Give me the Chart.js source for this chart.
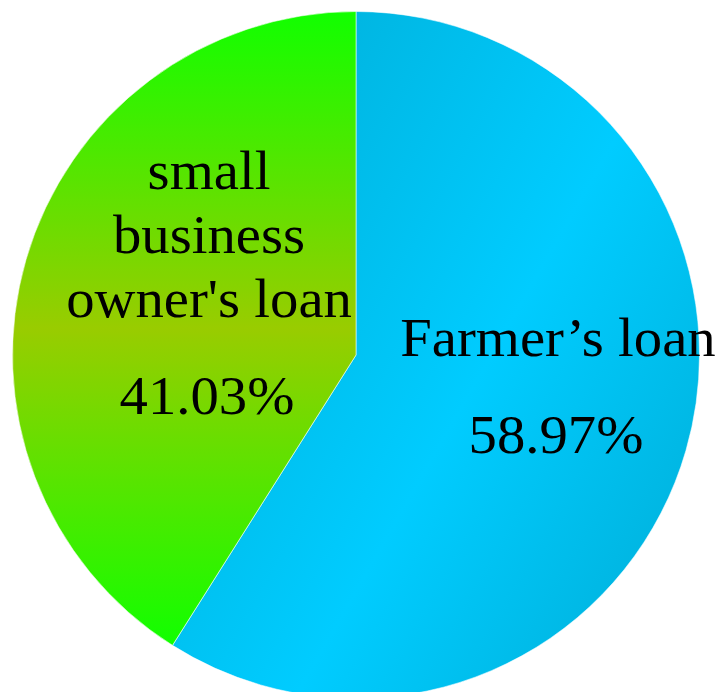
<!DOCTYPE html>
<html>
<head>
<meta charset="utf-8">
<script src="https://cdn.jsdelivr.net/npm/chart.js@4/dist/chart.umd.min.js"></script>
<style>
  html, body { margin: 0; padding: 0; background: #fff; overflow: hidden; }
  #wrap { position: absolute; left: 0; top: 0; width: 726px; height: 700px; }
</style>
</head>
<body>
<div id="wrap"><canvas id="pie" width="726" height="700"></canvas></div>
<script>
// loan shares (%)
const categories = ['Farmer’s loan', "small business owner's loan"];
const shares = [58.97, 41.03];
// how each slice label is broken into lines
const labelLines = [
  ['Farmer’s loan'],
  ['small', 'business', "owner's loan"]
];
// nudge of each label from the slice's midpoint
const labelShift = [[37, -47], [18, -118]];

const serif = '"Liberation Serif", "Times New Roman", serif';

const bgColors = (context) => {
  const chart = context.chart;
  const area = chart.chartArea;
  if (!area) return '#00ccff';
  const cx = (area.left + area.right) / 2;
  const cy = (area.top + area.bottom) / 2;
  const r = Math.min(area.right - area.left, area.bottom - area.top) / 2;
  const ctx = chart.ctx;
  if (context.dataIndex === 0) {
    const g = ctx.createLinearGradient(cx - 0.163 * r, cy - 0.74 * r, cx + 1.18 * r, cy + 0.03 * r);
    g.addColorStop(0, '#00b6e2');
    g.addColorStop(0.55, '#00ccff');
    g.addColorStop(1, '#00b6e2');
    return g;
  }
  // green slice runs from the top of the pie down to where it meets the blue one
  const total = shares.reduce((a, b) => a + b, 0);
  const ang = 2 * Math.PI * shares[0] / total;
  const lowY = cy - r * Math.cos(ang);
  const g = ctx.createLinearGradient(0, cy - r, 0, lowY);
  g.addColorStop(0, '#11ff00');
  g.addColorStop(0.5, '#99cc00');
  g.addColorStop(1, '#11ff00');
  return g;
};

const sliceLabels = {
  id: 'sliceLabels',
  afterDatasetsDraw(chart) {
    const ctx = chart.ctx;
    const arcs = chart.getDatasetMeta(0).data;
    const lineH = 64, pctGap = 97;
    ctx.save();
    ctx.fillStyle = '#000';
    ctx.textAlign = 'center';
    ctx.textBaseline = 'alphabetic';
    ctx.font = '54px ' + serif;
    const put = (txt, x, y) => {
      ctx.save();
      ctx.translate(x, y);
      ctx.scale(1.05, 1);
      ctx.fillText(txt, 0, 0);
      ctx.restore();
    };
    arcs.forEach((arc, i) => {
      const p = arc.tooltipPosition(true);
      const x = p.x + labelShift[i][0];
      let y = p.y + labelShift[i][1];
      labelLines[i].forEach((ln, j) => put(ln, x, y + j * lineH));
      y += (labelLines[i].length - 1) * lineH + pctGap;
      put(shares[i].toFixed(2) + '%', x - 2, y);
    });
    ctx.restore();
  }
};

new Chart(document.getElementById('pie'), {
  type: 'pie',
  data: {
    labels: categories,
    datasets: [{
      data: shares,
      backgroundColor: bgColors,
      borderColor: 'rgba(255,255,255,0.55)',
      borderWidth: 1,
      hoverOffset: 0
    }]
  },
  options: {
    responsive: false,
    devicePixelRatio: 1,
    animation: false,
    layout: { padding: { left: 12, right: 26, top: 11, bottom: 1 } },
    plugins: {
      legend: { display: false },
      tooltip: { enabled: false }
    }
  },
  plugins: [sliceLabels]
});
</script>
</body>
</html>
